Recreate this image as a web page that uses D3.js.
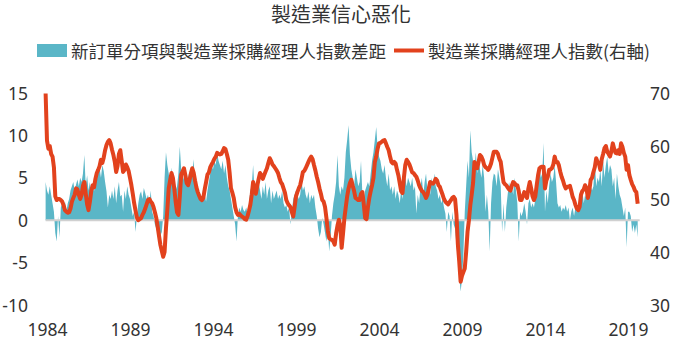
<!DOCTYPE html>
<html><head><meta charset="utf-8">
<script src="https://cdn.jsdelivr.net/npm/d3@7"></script>
<style>
body{margin:0;background:#fff}
text{font-family:"Noto Sans CJK TC","Noto Sans",sans-serif;fill:#333}
</style>
</head><body>
<svg id="chart" width="680" height="340"></svg>
<script>
const title = "製造業信心惡化";
const seriesNames = ["新訂單分項與製造業採購經理人指數差距", "製造業採購經理人指數(右軸)"];
const firstMonth = {year: 1983, month: 12};
// Manufacturing PMI (right axis), monthly from Dec 1983
const pmi = [69.9,
61.0,59.5,60.0,58.5,58.0,56.0,50.5,49.8,50.0,50.0,49.8,49.5,
48.8,47.9,47.6,47.4,47.5,48.2,49.5,50.2,50.8,52.0,51.8,50.8,
50.0,50.8,52.5,53.2,51.0,49.0,47.9,49.5,51.5,52.6,52.2,53.8,
54.9,55.5,56.2,57.4,56.8,57.8,59.2,60.2,60.8,61.1,60.5,59.3,
58.3,57.0,55.1,56.2,58.5,59.2,57.2,55.1,55.5,56.5,56.0,55.3,
54.0,52.6,51.0,49.2,47.8,46.5,46.0,46.2,46.4,47.0,47.5,48.2,
49.0,49.8,50.0,49.5,49.2,48.5,47.5,46.4,44.8,43.0,41.3,40.2,
39.1,40.0,44.5,48.0,52.0,53.5,54.9,54.0,52.0,49.5,47.5,47.0,
50.5,54.6,55.2,55.8,54.5,53.0,52.6,53.5,54.8,55.8,55.0,53.5,
52.2,51.3,50.6,50.0,49.8,50.2,51.8,53.2,54.6,55.0,56.0,56.5,
57.0,57.6,58.0,58.7,58.5,58.4,58.5,59.0,59.6,59.4,58.5,57.4,
55.0,52.0,51.2,50.2,48.5,47.5,47.0,47.2,46.9,46.7,46.5,46.2,
46.1,46.8,47.8,48.9,50.8,53.2,52.0,51.0,52.5,53.8,54.9,54.5,
53.8,54.5,55.2,55.8,56.8,57.7,57.2,56.5,56.2,55.8,55.4,54.9,
54.0,53.2,52.8,52.0,51.2,49.8,49.2,48.8,48.5,47.5,46.7,48.5,
50.5,51.3,52.0,52.6,53.8,55.1,55.3,55.8,56.4,57.0,57.6,58.0,
57.5,56.4,55.4,54.2,53.2,52.0,51.0,49.8,49.5,48.5,46.4,44.0,
42.6,42.4,42.3,42.0,41.4,43.5,45.0,46.1,45.0,40.8,43.5,46.4,
48.5,50.5,52.0,53.0,53.6,52.5,51.5,50.2,50.0,49.8,49.8,51.0,
51.3,49.0,46.4,46.2,48.5,50.2,51.5,52.6,54.0,57.0,58.0,59.5,
60.5,60.6,60.8,61.0,61.1,60.5,59.8,59.2,58.0,57.0,56.7,57.0,
56.7,55.5,54.5,53.0,51.5,51.1,54.0,56.4,57.4,57.0,56.5,55.8,
55.0,54.9,54.5,54.2,53.5,52.6,52.0,51.5,51.3,50.8,50.2,50.8,
52.0,53.2,53.0,52.9,53.2,53.8,53.5,52.6,52.3,51.5,50.8,50.0,
49.5,49.2,49.0,49.4,49.8,50.2,50.4,50.0,47.0,41.5,38.2,34.4,
35.5,36.2,36.9,40.0,43.8,46.0,48.8,50.8,53.0,57.0,56.2,55.8,
57.0,58.3,58.0,57.4,56.4,56.0,55.8,55.5,56.0,56.7,57.8,58.9,
58.9,58.9,58.5,57.6,57.0,55.0,53.2,52.8,52.6,52.2,51.8,51.6,
52.5,53.2,53.0,52.6,52.6,51.5,49.8,49.8,50.5,51.3,50.8,50.2,
52.0,53.2,52.0,50.5,49.8,50.5,52.6,54.5,55.8,56.0,56.1,56.1,
52.0,53.5,54.2,55.5,55.6,55.8,56.5,58.0,57.0,57.0,56.4,55.2,
54.2,53.5,52.6,52.0,52.3,52.3,52.5,51.5,50.4,49.8,48.9,48.2,
47.9,48.5,50.8,51.5,51.8,52.6,52.0,50.2,51.5,53.6,54.0,55.1,
56.0,57.7,57.0,56.7,55.5,57.5,58.5,59.6,60.0,58.9,58.5,58.0,
59.0,60.5,59.5,58.7,58.6,59.2,58.5,60.5,59.8,58.7,58.0,55.5,
56.4,54.5,53.6,52.8,52.3,51.6,51.3,49.1];
// New orders minus PMI (left axis), monthly from Dec 1983
const gap = [4.5,
3.5,3.0,4.0,3.0,2.0,1.0,-1.5,-2.5,0.5,-2.0,1.5,2.0,
1.5,2.2,1.0,2.0,2.5,3.5,4.0,4.5,3.5,4.2,4.8,4.0,
5.0,4.5,5.5,7.7,4.0,5.3,3.5,4.5,3.0,4.0,3.4,4.5,
6.0,5.5,6.2,5.0,6.5,5.8,4.5,3.4,1.5,3.0,2.5,3.5,
2.5,4.0,2.0,3.5,4.5,2.8,3.0,1.0,3.5,2.5,4.0,3.0,
2.5,1.5,0.5,1.0,-1.4,0.5,2.0,3.0,3.4,2.5,3.8,3.2,
2.5,3.0,2.0,3.5,1.0,0.5,-0.5,-1.0,-1.5,-2.0,-1.8,-1.4,
0.5,5.0,8.0,6.5,5.5,4.0,6.2,4.5,5.0,3.5,4.0,5.5,
8.7,6.0,5.3,4.8,5.0,4.0,5.5,4.5,5.0,5.5,7.2,4.0,
3.5,4.0,2.5,3.0,2.5,4.0,3.0,2.2,3.5,4.5,5.5,6.5,
6.0,7.0,6.5,8.0,7.0,6.5,6.0,7.0,5.5,6.5,5.0,4.0,
3.5,2.5,1.5,0.5,-0.5,-2.5,0.5,1.5,1.0,1.8,1.2,1.0,
1.5,0.8,2.0,3.5,4.0,6.5,3.5,4.0,3.0,4.5,3.5,2.5,
4.0,3.0,4.5,2.5,3.5,4.0,2.0,3.5,2.5,3.0,3.5,2.5,
3.0,2.5,3.5,2.0,1.5,1.8,1.0,1.5,-0.5,1.0,2.5,3.0,
3.5,3.0,2.5,3.0,4.5,3.5,4.0,3.0,2.5,3.4,2.0,3.0,
2.5,3.0,1.5,0.5,-1.0,-2.0,-1.4,0.3,-0.5,-1.5,-2.5,-1.0,
-3.7,-2.0,0.5,2.0,3.0,4.5,7.7,4.0,3.0,4.0,3.5,5.0,
8.0,9.5,11.2,7.7,6.0,5.0,4.0,6.0,5.0,4.0,4.5,7.0,
3.0,2.5,3.5,4.0,4.5,4.0,5.5,7.0,8.0,9.5,11.0,8.5,
7.5,7.0,6.0,5.5,6.5,5.0,4.0,5.5,3.5,4.0,3.0,4.0,
2.5,3.5,3.0,2.0,3.5,2.5,4.5,5.0,4.0,5.0,4.5,4.0,
5.0,3.5,4.0,0.8,3.0,2.0,4.0,5.0,3.0,4.5,5.5,3.5,
4.0,3.0,5.0,4.0,5.5,4.0,3.5,2.5,3.0,2.0,2.5,1.5,
0.8,-1.4,1.0,0.5,-2.5,1.0,-0.5,-1.0,-3.0,-4.7,-6.5,-8.4,
-7.0,-4.0,1.0,4.0,7.0,5.0,10.6,8.0,7.0,6.0,8.0,5.5,
7.0,6.0,5.0,6.5,5.0,1.0,3.0,1.0,-3.7,2.0,4.5,5.5,
5.3,4.0,6.0,5.0,4.0,-1.4,2.0,-1.4,1.5,3.0,4.5,3.5,
4.0,3.0,5.0,3.5,2.0,-2.5,1.0,0.5,1.0,2.0,1.0,-0.5,
2.0,2.5,1.5,2.0,1.5,2.5,3.5,5.0,6.5,5.0,5.5,9.1,
1.0,3.5,2.0,4.0,5.5,4.5,5.0,6.5,4.5,2.0,1.5,1.8,
1.0,1.5,1.2,1.8,1.0,1.5,0.0,1.0,1.5,0.5,1.5,1.0,
1.2,1.5,2.0,3.5,2.0,3.0,2.5,3.5,3.0,4.0,3.5,4.0,
7.0,4.0,5.0,4.5,6.0,4.0,7.0,5.0,6.5,7.5,5.5,6.5,
6.0,4.0,5.0,2.5,5.5,4.0,3.0,2.5,1.5,0.5,1.5,-3.2,
1.0,1.0,0.5,-1.4,-0.5,-1.5,-0.5,-2.0];
const xTickLabels = [1984, 1989, 1994, 1999, 2004, 2009, 2014, 2019];
const leftTicks = [-10, -5, 0, 5, 10, 15];
const rightTicks = [30, 40, 50, 60, 70];

const TEAL = "#5ab6c7", RED = "#e2421d";
const svg = d3.select("#chart");
const t = i => firstMonth.year + (firstMonth.month - 1 + i) / 12;

const x = d3.scaleLinear().domain([1984, 2019]).range([47, 628]);
const yL = d3.scaleLinear().domain([-10, 15]).range([305, 93]);
const yR = d3.scaleLinear().domain([30, 70]).range([305, 93]);

// title
svg.append("text").attr("x", 341).attr("y", 13).attr("text-anchor", "middle")
  .attr("dominant-baseline", "central").style("font-size", "20px").text(title);

// legend
const lg = svg.append("g");
lg.append("rect").attr("x", 37).attr("y", 44).attr("width", 30).attr("height", 13).attr("fill", TEAL);
lg.append("text").attr("x", 71).attr("y", 50).attr("dominant-baseline", "central")
  .style("font-size", "17.5px").text(seriesNames[0]);
lg.append("line").attr("x1", 394).attr("x2", 424).attr("y1", 50.5).attr("y2", 50.5)
  .attr("stroke", RED).attr("stroke-width", 4);
lg.append("text").attr("x", 428).attr("y", 50).attr("dominant-baseline", "central")
  .style("font-size", "17.5px").text(seriesNames[1]);

// area (left axis)
const area = d3.area().x((d, i) => x(t(i))).y0(yL(0)).y1(d => yL(d));
svg.append("path").datum(gap).attr("d", area).attr("fill", TEAL);

// zero line
svg.append("line").attr("x1", x(t(0))).attr("x2", x(t(gap.length - 1)) + 2)
  .attr("y1", yL(0)).attr("y2", yL(0)).attr("stroke", "#d0d0d0").attr("stroke-width", 2);

// PMI line (right axis)
const line = d3.line().x((d, i) => x(t(i))).y(d => yR(d));
svg.append("path").datum(pmi).attr("d", line).attr("fill", "none")
  .attr("stroke", RED).attr("stroke-width", 4).attr("stroke-linejoin", "round");

// axes
const fmt = d => String(d);
const axL = svg.append("g").attr("transform", "translate(28,0)")
  .call(d3.axisLeft(yL).tickValues(leftTicks).tickSize(0).tickPadding(0).tickFormat(fmt));
const axR = svg.append("g").attr("transform", "translate(650,0)")
  .call(d3.axisRight(yR).tickValues(rightTicks).tickSize(0).tickPadding(0).tickFormat(fmt));
const axB = svg.append("g").attr("transform", "translate(0,320)")
  .call(d3.axisBottom(x).tickValues(xTickLabels).tickSize(0).tickPadding(0).tickFormat(fmt));
[axL, axR, axB].forEach(a => {
  a.select(".domain").remove();
  a.selectAll("text").style("font-size", "17.5px").attr("fill", "#333")
    .style("font-family", '"Noto Sans","Noto Sans CJK TC",sans-serif');
});
axL.selectAll("text").attr("dy", "0.35em");
axR.selectAll("text").attr("dy", "0.35em");
axB.selectAll("text").attr("dy", "0.35em").attr("y", 10);
</script>
</body></html>
